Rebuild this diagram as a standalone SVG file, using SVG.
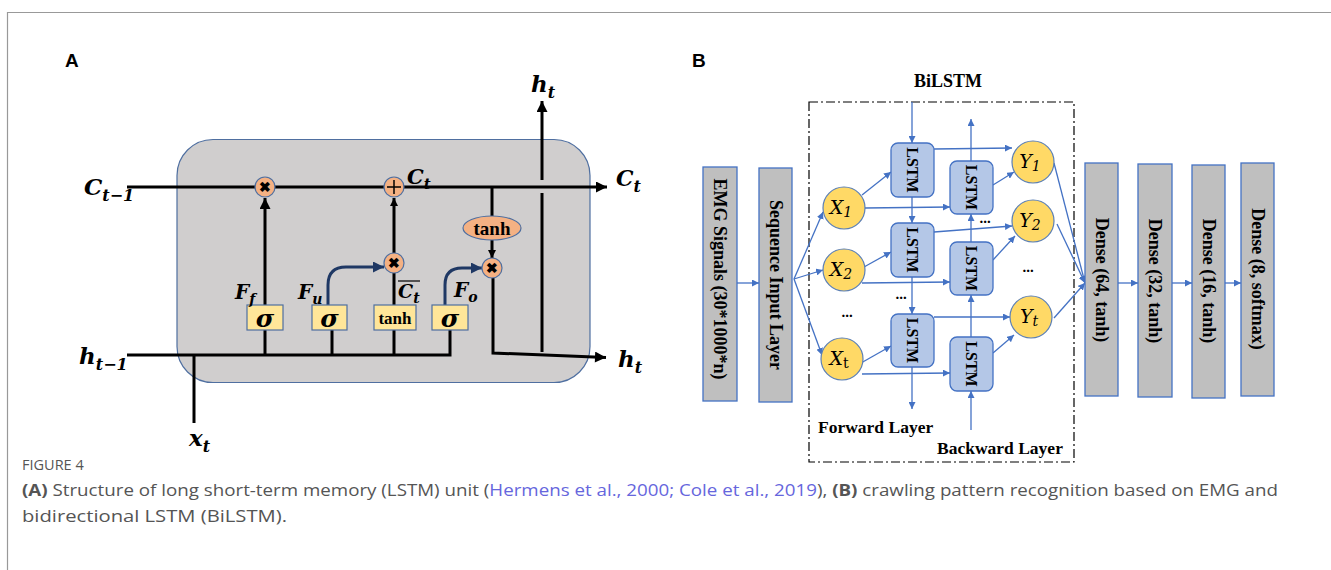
<svg xmlns="http://www.w3.org/2000/svg" width="1331" height="570" viewBox="0 0 1331 570">
<style>
.lbl{font-family:"Liberation Sans",Arial,sans-serif;font-weight:bold;font-size:19px;fill:#000}
.math{font-family:"DejaVu Serif","Liberation Serif",serif;font-weight:bold;font-style:italic;fill:#000}
.blk{stroke:#000;stroke-width:3;fill:none}
.navy{stroke:#1f3864;stroke-width:3;fill:none}
.op{fill:#f4b183;stroke:#4f6fa0;stroke-width:1.2}
.gate{fill:#ffe699;stroke:#4f6fa0;stroke-width:1.2}
.sig{font-family:"DejaVu Serif","Liberation Serif",serif;font-weight:bold;font-style:italic;font-size:25px;fill:#000;text-anchor:middle}
.tn{font-family:"Liberation Serif",serif;font-weight:bold;fill:#000;text-anchor:middle}
.bl{stroke:#4472c4;stroke-width:1.3;fill:none}
.lstm{fill:#b4c7e7;stroke:#4472c4;stroke-width:1.3}
.xy{fill:#ffd966;stroke:#5b7fb5;stroke-width:1.2}
.gbox{fill:#bfbfbf;stroke:#4472c4;stroke-width:1.3}
.bt{font-family:"Liberation Serif","Times New Roman",serif;font-weight:bold;fill:#000}
.vt{font-family:"Liberation Serif","Times New Roman",serif;font-weight:bold;fill:#000;text-anchor:middle;dominant-baseline:central}
.xi{font-family:"DejaVu Serif","Liberation Serif",serif;font-style:italic;font-size:19px;fill:#000;text-anchor:middle}
.dots{font-family:"Liberation Serif",serif;font-weight:bold;font-size:15px;fill:#000;text-anchor:middle}
.cap{font-family:"Open Sans","Noto Sans",sans-serif;fill:#555}
</style>
<defs>
<marker id="ahk" viewBox="0 0 10 10" refX="10" refY="5" markerWidth="13" markerHeight="11" markerUnits="userSpaceOnUse" orient="auto"><path d="M0,0 L10,5 L0,10 z" fill="#000"/></marker>
<marker id="ahs" viewBox="0 0 10 10" refX="10" refY="5" markerWidth="8" markerHeight="8" markerUnits="userSpaceOnUse" orient="auto"><path d="M0,0 L10,5 L0,10 z" fill="#000"/></marker>
<marker id="ahn" viewBox="0 0 10 10" refX="10" refY="5" markerWidth="11" markerHeight="11" markerUnits="userSpaceOnUse" orient="auto"><path d="M0,0 L10,5 L0,10 z" fill="#1f3864"/></marker>
<marker id="ahb" viewBox="0 0 10 10" refX="10" refY="5" markerWidth="7" markerHeight="7" markerUnits="userSpaceOnUse" orient="auto"><path d="M0,0 L10,5 L0,10 z" fill="#4472c4"/></marker>
</defs>

<!-- frame -->
<path d="M7.5,570 V12.5 H1331" fill="none" stroke="#999" stroke-width="1.2"/>

<!-- Panel A -->
<text class="lbl" x="65" y="67">A</text>
<rect id="cell" x="177" y="139.5" width="413" height="243" rx="36" ry="36" fill="#d0cece" stroke="#4f6fa0" stroke-width="1.2"/>

<g id="connectors-A">
  <line class="blk" x1="127" y1="187" x2="607" y2="187" marker-end="url(#ahk)"/>
  <path class="blk" d="M127,355 H450 V330"/>
  <line class="blk" x1="194" y1="355" x2="194" y2="423"/>
  <line class="blk" x1="265" y1="355" x2="265" y2="330"/>
  <line class="blk" x1="265" y1="305" x2="265" y2="198" marker-end="url(#ahk)"/>
  <line class="blk" x1="332" y1="355" x2="332" y2="330"/>
  <line class="blk" x1="394" y1="355" x2="394" y2="330"/>
  <line class="blk" x1="394" y1="305" x2="394" y2="273"/>
  <line class="blk" x1="394" y1="253" x2="394" y2="198" marker-end="url(#ahs)"/>
  <line class="blk" x1="492" y1="187" x2="492" y2="216"/>
  <line class="blk" x1="492" y1="240" x2="492" y2="258" marker-end="url(#ahs)"/>
  <path class="blk" d="M493,278 V353 L606,357.5" marker-end="url(#ahk)"/>
  <line class="blk" x1="542" y1="352" x2="542" y2="193"/>
  <line class="blk" x1="542" y1="180" x2="542" y2="101" marker-end="url(#ahk)"/>
  <path class="navy" d="M328,305 V285 Q328,267 346,267 H384" marker-end="url(#ahn)"/>
  <path class="navy" d="M445,305 V285 Q445,268 462,268 H482" marker-end="url(#ahn)"/>
</g>

<g id="mul-f"><circle class="op" cx="265" cy="187" r="10"/><text class="tn" x="265" y="192" font-size="14">✖</text></g>
<g id="add"><circle class="op" cx="394" cy="187" r="10"/><path d="M394,180 V194 M387,187 H401" stroke="#000" stroke-width="1.5"/></g>
<g id="mul-u"><circle class="op" cx="394" cy="263" r="10"/><text class="tn" x="394" y="268" font-size="14">✖</text></g>
<g id="mul-o"><circle class="op" cx="492" cy="268" r="10"/><text class="tn" x="492" y="273" font-size="14">✖</text></g>
<g id="tanh-out"><ellipse class="op" cx="492" cy="228" rx="29" ry="12"/><text class="tn" x="492" y="234.5" font-size="19">tanh</text></g>
<g id="gate-f"><rect class="gate" x="247" y="305" width="36" height="25"/><text class="sig" x="265" y="327">σ</text></g>
<g id="gate-u"><rect class="gate" x="312" y="305" width="35" height="25"/><text class="sig" x="329.5" y="327">σ</text></g>
<g id="gate-c"><rect class="gate" x="374" y="305" width="42" height="25"/><text class="tn" x="395" y="323.5" font-size="17">tanh</text></g>
<g id="gate-o"><rect class="gate" x="432" y="305" width="36" height="25"/><text class="sig" x="450" y="327">σ</text></g>

<g id="labels-A">
  <text class="math" x="84" y="195" font-size="23">C<tspan font-size="16" dy="6">t−1</tspan></text>
  <text class="math" x="79" y="364" font-size="23">h<tspan font-size="16" dy="6">t−1</tspan></text>
  <text class="math" x="189" y="446" font-size="23">x<tspan font-size="16" dy="6">t</tspan></text>
  <text class="math" x="531" y="92" font-size="23">h<tspan font-size="16" dy="6">t</tspan></text>
  <text class="math" x="407" y="184" font-size="21">C<tspan font-size="15" dy="5">t</tspan></text>
  <text class="math" x="616" y="186" font-size="22">C<tspan font-size="16" dy="6">t</tspan></text>
  <text class="math" x="618" y="367" font-size="23">h<tspan font-size="16" dy="6">t</tspan></text>
  <text class="math" x="235" y="299" font-size="20">F<tspan font-size="14" dy="5">f</tspan></text>
  <text class="math" x="298" y="299" font-size="20">F<tspan font-size="14" dy="5">u</tspan></text>
  <text class="math" x="454" y="297" font-size="20">F<tspan font-size="14" dy="5">o</tspan></text>
  <line x1="398" y1="281" x2="420" y2="281" stroke="#000" stroke-width="1.2"/>
  <text class="math" x="398" y="298" font-size="19">C<tspan font-size="14" dy="5">t</tspan></text>
</g>

<!-- Panel B -->
<text class="lbl" x="692" y="67">B</text>
<text class="bt" x="914" y="87" font-size="18">BiLSTM</text>
<rect id="bilstm-box" x="809" y="102" width="265" height="360" fill="none" stroke="#000" stroke-width="1.2" stroke-dasharray="9,3,2,3"/>
<text class="bt" x="818" y="433" font-size="17.5">Forward Layer</text>
<text class="bt" x="937" y="454" font-size="17.5">Backward Layer</text>

<g id="connectors-B">
  <line class="bl" x1="737" y1="283" x2="759" y2="283" marker-end="url(#ahb)"/>
  <line class="bl" x1="794" y1="279" x2="823" y2="212" marker-end="url(#ahb)"/>
  <line class="bl" x1="794" y1="279" x2="823" y2="270" marker-end="url(#ahb)"/>
  <line class="bl" x1="794" y1="279" x2="822" y2="355" marker-end="url(#ahb)"/>
  <line class="bl" x1="862" y1="195" x2="891" y2="172" marker-end="url(#ahb)"/>
  <line class="bl" x1="864" y1="267" x2="891" y2="252" marker-end="url(#ahb)"/>
  <line class="bl" x1="861" y1="363" x2="891" y2="346" marker-end="url(#ahb)"/>
  <line class="bl" x1="865" y1="208" x2="950" y2="207" marker-end="url(#ahb)"/>
  <line class="bl" x1="862" y1="283" x2="950" y2="282" marker-end="url(#ahb)"/>
  <line class="bl" x1="862" y1="374" x2="950" y2="373" marker-end="url(#ahb)"/>
  <line class="bl" x1="912" y1="102" x2="912" y2="143" marker-end="url(#ahb)"/>
  <line class="bl" x1="912" y1="197" x2="912" y2="223" marker-end="url(#ahb)"/>
  <line class="bl" x1="912" y1="277" x2="912" y2="314" marker-end="url(#ahb)"/>
  <line class="bl" x1="912" y1="367" x2="912" y2="409" marker-end="url(#ahb)"/>
  <line class="bl" x1="971" y1="430" x2="971" y2="391" marker-end="url(#ahb)"/>
  <line class="bl" x1="971" y1="337" x2="971" y2="295" marker-end="url(#ahb)"/>
  <line class="bl" x1="971" y1="242" x2="971" y2="214" marker-end="url(#ahb)"/>
  <line class="bl" x1="971" y1="161" x2="971" y2="119" marker-end="url(#ahb)"/>
  <line class="bl" x1="934" y1="149" x2="1012" y2="148" marker-end="url(#ahb)"/>
  <line class="bl" x1="934" y1="232" x2="1012" y2="226" marker-end="url(#ahb)"/>
  <line class="bl" x1="934" y1="317" x2="1010" y2="317" marker-end="url(#ahb)"/>
  <line class="bl" x1="993" y1="185" x2="1014" y2="172" marker-end="url(#ahb)"/>
  <line class="bl" x1="993" y1="260" x2="1015" y2="236" marker-end="url(#ahb)"/>
  <line class="bl" x1="993" y1="353" x2="1014" y2="335" marker-end="url(#ahb)"/>
  <line class="bl" x1="1054" y1="163" x2="1085" y2="283" marker-end="url(#ahb)"/>
  <line class="bl" x1="1057" y1="224" x2="1085" y2="283" marker-end="url(#ahb)"/>
  <line class="bl" x1="1054" y1="318" x2="1085" y2="283" marker-end="url(#ahb)"/>
  <line class="bl" x1="1118" y1="283" x2="1138" y2="283" marker-end="url(#ahb)"/>
  <line class="bl" x1="1172" y1="283" x2="1192" y2="283" marker-end="url(#ahb)"/>
  <line class="bl" x1="1225" y1="283" x2="1241" y2="283" marker-end="url(#ahb)"/>
</g>

<g id="emg"><rect class="gbox" x="703" y="167" width="34" height="234"/><text class="vt" font-size="18" transform="translate(720,279) rotate(90)">EMG Signals (30*1000*n)</text></g>
<g id="seq"><rect class="gbox" x="759" y="168" width="33" height="234"/><text class="vt" font-size="18" transform="translate(775.5,285) rotate(90)">Sequence Input Layer</text></g>

<g id="x1"><circle class="xy" cx="844" cy="208" r="21"/><text class="xi" x="841" y="214">X<tspan font-size="14" dy="3">1</tspan></text></g>
<g id="x2"><circle class="xy" cx="844" cy="270" r="21"/><text class="xi" x="841" y="276">X<tspan font-size="14" dy="3">2</tspan></text></g>
<g id="xt"><circle class="xy" cx="842" cy="359" r="21"/><text class="xi" x="839" y="365">X<tspan font-size="14" dy="3" font-style="normal">t</tspan></text></g>
<text class="dots" x="847" y="317">...</text>

<g id="lstm-f1"><rect class="lstm" x="891" y="143" width="43" height="54" rx="7"/><text class="vt" font-size="16" transform="translate(912.5,170) rotate(90)">LSTM</text></g>
<g id="lstm-f2"><rect class="lstm" x="891" y="223" width="43" height="54" rx="7"/><text class="vt" font-size="16" transform="translate(912.5,250) rotate(90)">LSTM</text></g>
<g id="lstm-f3"><rect class="lstm" x="891" y="314" width="43" height="53" rx="7"/><text class="vt" font-size="16" transform="translate(912.5,340.5) rotate(90)">LSTM</text></g>
<g id="lstm-b1"><rect class="lstm" x="950" y="161" width="43" height="53" rx="7"/><text class="vt" font-size="16" transform="translate(971.5,187.5) rotate(90)">LSTM</text></g>
<g id="lstm-b2"><rect class="lstm" x="950" y="242" width="43" height="53" rx="7"/><text class="vt" font-size="16" transform="translate(971.5,268.5) rotate(90)">LSTM</text></g>
<g id="lstm-b3"><rect class="lstm" x="950" y="337" width="43" height="54" rx="7"/><text class="vt" font-size="16" transform="translate(971.5,364) rotate(90)">LSTM</text></g>
<text class="dots" x="901" y="299">...</text>
<text class="dots" x="985" y="223">...</text>

<g id="y1"><circle class="xy" cx="1033" cy="162" r="21"/><text class="xi" x="1030" y="168">Y<tspan font-size="14" dy="3">1</tspan></text></g>
<g id="y2"><circle class="xy" cx="1033" cy="221" r="21"/><text class="xi" x="1030" y="227">Y<tspan font-size="14" dy="3">2</tspan></text></g>
<g id="yt"><circle class="xy" cx="1031" cy="317" r="21"/><text class="xi" x="1029" y="323">Y<tspan font-size="14" dy="3">t</tspan></text></g>
<text class="dots" x="1028" y="272">...</text>

<g id="d64"><rect class="gbox" x="1085" y="163" width="33" height="233"/><text class="vt" font-size="18" transform="translate(1101.5,280) rotate(90)">Dense (64, tanh)</text></g>
<g id="d32"><rect class="gbox" x="1138" y="164" width="34" height="233"/><text class="vt" font-size="18" transform="translate(1155,281) rotate(90)">Dense (32, tanh)</text></g>
<g id="d16"><rect class="gbox" x="1192" y="165" width="33" height="233"/><text class="vt" font-size="18" transform="translate(1208.5,281) rotate(90)">Dense (16, tanh)</text></g>
<g id="d8"><rect class="gbox" x="1241" y="163" width="33" height="233"/><text class="vt" font-size="18" transform="translate(1257.5,279) rotate(90)">Dense (8, softmax)</text></g>

<!-- Caption -->
<text class="cap" x="22" y="470" font-size="14.5" fill="#666">FIGURE 4</text>
<text class="cap" x="22" y="496" font-size="16" textLength="1256" lengthAdjust="spacingAndGlyphs"><tspan font-weight="bold">(A)</tspan> Structure of long short-term memory (LSTM) unit (<tspan fill="#6666dd">Hermens et al., 2000; Cole et al., 2019</tspan>), <tspan font-weight="bold">(B)</tspan> crawling pattern recognition based on EMG and</text>
<text class="cap" x="22" y="522" font-size="16" textLength="265" lengthAdjust="spacingAndGlyphs">bidirectional LSTM (BiLSTM).</text>
</svg>
